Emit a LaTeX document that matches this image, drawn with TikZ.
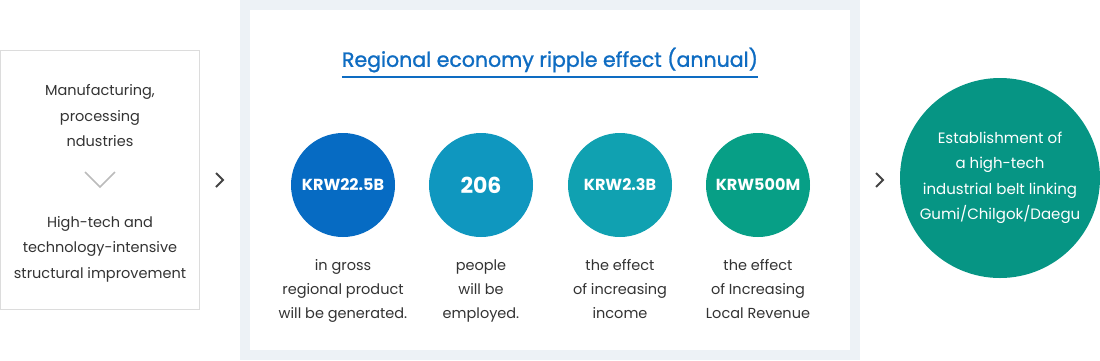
\documentclass[tikz,border=0pt]{standalone}
\usepackage{fontspec}
\setmainfont{Poppins}
\newfontfamily\titlefont[FakeBold=1.2]{Poppins}
\usetikzlibrary{positioning}
\definecolor{txtgray}{HTML}{333333}
\definecolor{boxline}{HTML}{DCDCDC}
\definecolor{panelbg}{HTML}{EDF2F6}
\definecolor{titleblue}{HTML}{0E6CC2}
\definecolor{statA}{HTML}{066BC3}
\definecolor{statB}{HTML}{0F97BF}
\definecolor{statC}{HTML}{10A1B1}
\definecolor{statD}{HTML}{079F86}
\definecolor{beltgreen}{HTML}{069584}
\definecolor{chevdark}{HTML}{444444}
\definecolor{chevlight}{HTML}{BBBBBB}

\begin{document}
\begin{tikzpicture}[x=1pt, y=-1pt, align=center]

\tikzstyle{stat} = [circle, minimum size=104pt, inner sep=0pt, text=white, font=\bfseries\fontsize{16}{18}\selectfont]
\tikzstyle{desc} = [text=txtgray, font=\fontsize{14.5}{24}\selectfont, below=19pt of #1]
\tikzstyle{plain} = [text=txtgray, font=\fontsize{14.5}{25.5}\selectfont]
\tikzstyle{chev} = [draw=chevdark, line width=2pt, line join=miter]

\useasboundingbox (0,0) rectangle (1100,360);

% left box
\draw[boxline] (0.5,50.5) rectangle (199.5,309.5);
\node (oldind) [plain] at (100,116) {Manufacturing,\\processing\\ndustries};
\node (newind) [plain] at (100,249) {High-tech and\\technology-intensive\\structural improvement};
\coordinate (down) at (100,180);
\draw[chevlight, line width=1.5pt] ([shift={(-15,-8)}]down) -- ([shift={(0,7)}]down) -- ([shift={(15,-8)}]down);

% middle panel
\fill[panelbg] (240,0) rectangle (860,360);
\fill[white] (250,10) rectangle (850,350);
\node (title) [text=titleblue, font=\titlefont\fontsize{20.5}{24}\selectfont, inner xsep=0pt] at (550,60) {Regional economy ripple effect (annual)};
\draw[titleblue, line width=1.2pt] (title.west |- 0,77) -- (title.east |- 0,77);

\node (gross) [stat, fill=statA] at (343,185) {KRW22.5B};
\node (jobs) [stat, fill=statB, font=\bfseries\fontsize{22}{24}\selectfont] at (481,185) {206};
\node (income) [stat, fill=statC] at (620,185) {KRW2.3B};
\node (revenue) [stat, fill=statD] at (758,185) {KRW500M};

\node (grossd) [desc=gross] {in gross\\regional product\\will be generated.};
\node (jobsd) [desc=jobs] {people\\will be\\employed.};
\node (incomed) [desc=income] {the effect\\of increasing\\income};
\node (revenued) [desc=revenue] {the effect\\of Increasing\\Local Revenue};

% result
\node (belt) [circle, fill=beltgreen, minimum size=200pt, inner sep=0pt, text=white, font=\fontsize{15}{25.5}\selectfont] at (1000,178) {Establishment of\\a high-tech\\industrial belt linking\\Gumi/Chilgok/Daegu};

\coordinate (stepA) at (220,180);
\coordinate (stepB) at (880,180);
\foreach \c in {stepA, stepB}
  \draw[chev] ([shift={(-4,-7)}]\c) -- ([shift={(3,0)}]\c) -- ([shift={(-4,7)}]\c);

\end{tikzpicture}
\end{document}
